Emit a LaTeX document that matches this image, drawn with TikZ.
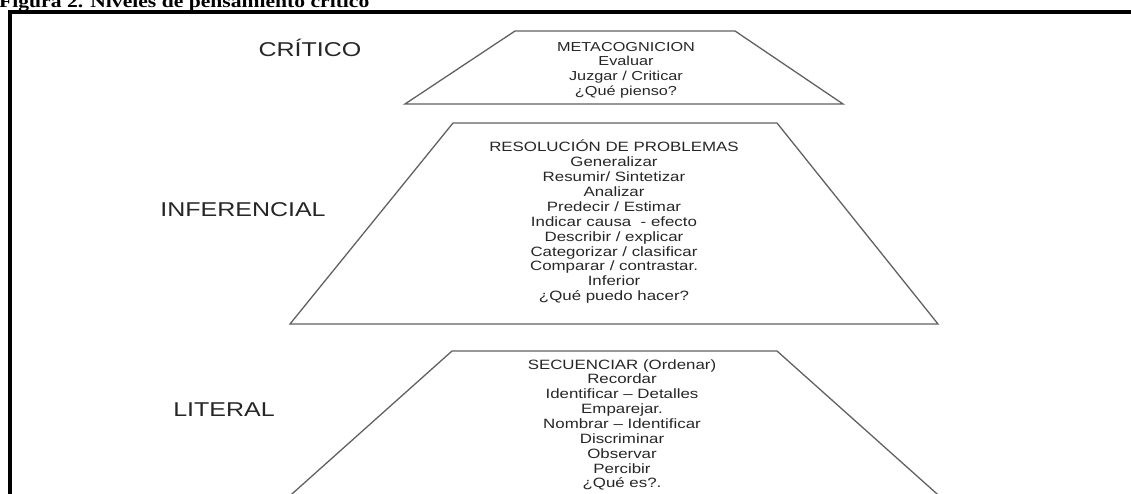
\documentclass[tikz,border=0pt]{standalone}
\usepackage{fontspec}
\setmainfont{Liberation Sans}[FakeStretch=1.25]
\newfontfamily\captionfont{Liberation Serif}[FakeStretch=1.2]

\tikzset{
  level/.style={draw=black!62, line width=1.3pt, line join=miter},
  frame/.style={draw=black, line width=4pt},
  item/.style={anchor=base, inner sep=0pt, text=black!85,
    font=\fontsize{13.5}{15}\selectfont},
  itemsmall/.style={item, font=\fontsize{13}{15}\selectfont},
  tier/.style={anchor=base, inner sep=0pt, text=black!85,
    font=\fontsize{20}{24}\selectfont},
}

\begin{document}
\begin{tikzpicture}[x=1pt, y=-1pt]
  \useasboundingbox (0,0) rectangle (1131,494);
  \clip (0,0) rectangle (1131,494);

  % caption, cut by the top of the page
  \node[anchor=base west, inner sep=0pt] (caption) at (-1,8)
    {\captionfont\bfseries\fontsize{18}{20}\selectfont Figura 2. Niveles de pensamiento crítico};

  % enclosing frame (only its top and left sides are in view)
  \draw[frame] (9.5,520) -- (9.5,12) -- (1160,12);

  % pyramid tiers
  \coordinate (c1) at (405,104);  \coordinate (c2) at (515,31);
  \coordinate (c3) at (735,31);   \coordinate (c4) at (843,104);
  \draw[level] (c1) -- (c2) -- (c3) -- (c4) -- cycle;

  \coordinate (i1) at (290,324);  \coordinate (i2) at (453,123);
  \coordinate (i3) at (777,123);  \coordinate (i4) at (938,324);
  \draw[level] (i1) -- (i2) -- (i3) -- (i4) -- cycle;

  \coordinate (l1) at (274,510);  \coordinate (l2) at (452,351);
  \coordinate (l3) at (777,351);  \coordinate (l4) at (955,510);
  \draw[level] (l1) -- (l2) -- (l3) -- (l4);

  % tier names
  \node[tier] (critico) at (310,57) {CRÍTICO};
  \node[tier] (inferencial) at (243,217) {INFERENCIAL};
  \node[tier] (literal) at (224,416) {LITERAL};

  % contents of each tier
  \foreach \t [count=\i] in {METACOGNICION, Evaluar, Juzgar / Criticar, ¿Qué pienso?}
    \node[itemsmall] (cr\i) at (626,{51.3+(\i-1)*14.7}) {\t};

  \foreach \t [count=\i] in {RESOLUCIÓN DE PROBLEMAS, Generalizar,
      Resumir/ Sintetizar, Analizar, Predecir / Estimar,
      Indicar causa~ - efecto, Describir / explicar,
      Categorizar / clasificar, Comparar / contrastar., Inferior,
      ¿Qué puedo hacer?}
    \node[item] (in\i) at (614,{152+(\i-1)*14.87}) {\t};

  \foreach \t [count=\i] in {SECUENCIAR (Ordenar), Recordar,
      Identificar – Detalles, Emparejar., Nombrar – Identificar,
      Discriminar, Observar, Percibir, ¿Qué es?.}
    \node[item] (li\i) at (622,{369+(\i-1)*14.87}) {\t};
\end{tikzpicture}
\end{document}
